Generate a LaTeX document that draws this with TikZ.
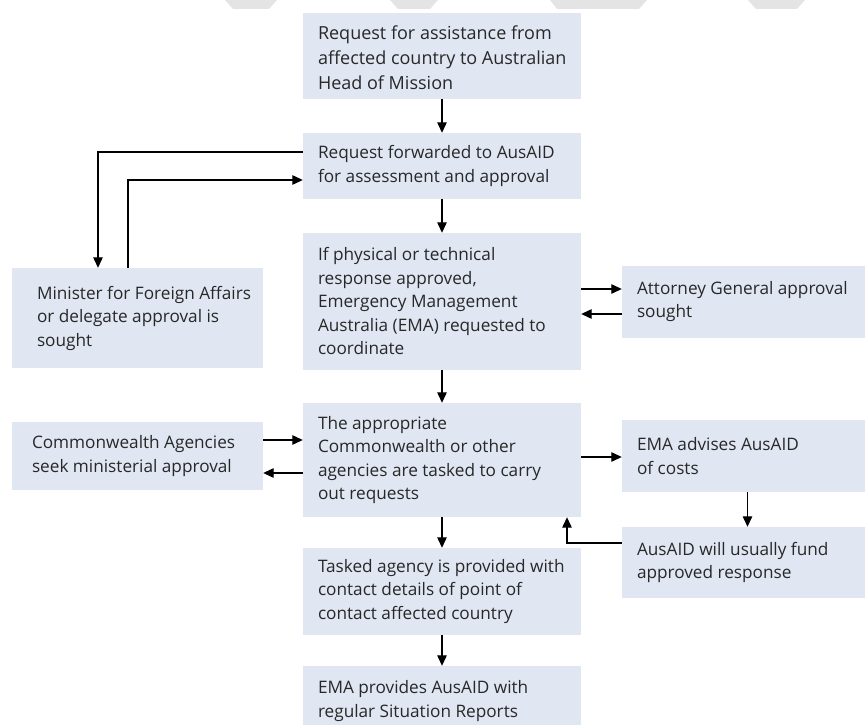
\documentclass[tikz,border=0pt]{standalone}
\usepackage{fontspec}
\setmainfont{Open Sans}
\usetikzlibrary{arrows.meta}
\definecolor{boxfill}{RGB}{224,230,242}
\definecolor{txtcol}{RGB}{40,40,40}
\definecolor{wm}{RGB}{228,228,228}
\tikzset{
  box/.style={fill=boxfill, draw=none, inner sep=0pt},
  txt/.style={anchor=west, align=left, inner sep=0pt, text=txtcol,
    font=\fontsize{17.2}{23.5}\selectfont},
  arr/.style={draw=black, line width=1.2pt, -{Triangle[length=10.5pt,width=9.5pt]}},
  wmark/.style={fill=wm, draw=none}
}
\begin{document}
\begin{tikzpicture}[x=1pt,y=-1pt]
\useasboundingbox (0,0) rectangle (865,725);
% watermark remnants at top edge
\fill[wmark] (225,0) -- (233,9) -- (269,9) -- (277,0) -- cycle;
\fill[wmark] (390,0) -- (398,9) -- (430,9) -- (438,0) -- cycle;
\fill[wmark] (550,0) -- (557,9) -- (639,9) -- (647,0) -- cycle;
\fill[wmark] (748,0) -- (756,9) -- (797,9) -- (805,0) -- cycle;

% boxes
\node[box, minimum width=278pt, minimum height=86pt] (b1) at (442,56) {};
\node[box, minimum width=278pt, minimum height=66pt] (b2) at (442,166) {};
\node[box, minimum width=278pt, minimum height=137pt] (b3) at (442,301.5) {};
\node[box, minimum width=278pt, minimum height=114pt] (b4) at (442,460) {};
\node[box, minimum width=278pt, minimum height=87pt] (b5) at (442,591.5) {};
\node[box, minimum width=278pt, minimum height=74pt] (b6) at (442,703) {};
\node[box, minimum width=251pt, minimum height=100pt] (mfa) at (137.5,318) {};
\node[box, minimum width=251pt, minimum height=68pt] (cw) at (137.5,456) {};
\node[box, minimum width=244pt, minimum height=72pt] (att) at (744,301.5) {};
\node[box, minimum width=244pt, minimum height=72pt] (ema) at (744,456) {};
\node[box, minimum width=244pt, minimum height=71pt] (fund) at (744,562.5) {};

% texts
\node[txt, font=\fontsize{18}{25}\selectfont] (t1) at ([xshift=15pt,yshift=-1.5pt]b1.west) {Request for assistance from\\affected country to Australian\\Head of Mission};
\node[txt] (t2) at ([xshift=15pt]b2.west) {Request forwarded to AusAID\\for assessment and approval};
\node[txt] (t3) at ([xshift=15pt]b3.west) {If physical or technical\\response approved,\\Emergency Management\\Australia (EMA) requested to\\coordinate};
\node[txt] (t4) at ([xshift=15pt]b4.west) {The appropriate\\Commonwealth or other\\agencies are tasked to carry\\out requests};
\node[txt] (t5) at ([xshift=15pt]b5.west) {Tasked agency is provided with\\contact details of point of\\contact affected country};
\node[txt] (t6) at ([xshift=15pt,yshift=2pt]b6.west) {EMA provides AusAID with\\regular Situation Reports};
\node[txt] (tm) at ([xshift=25pt]mfa.west) {Minister for Foreign Affairs\\or delegate approval is\\sought};
\node[txt] (tc) at ([xshift=20pt]cw.west) {Commonwealth Agencies\\seek ministerial approval};
\node[txt] (ta) at ([xshift=15pt]att.west) {Attorney General approval\\sought};
\node[txt] (te) at ([xshift=15pt]ema.west) {EMA advises AusAID\\of costs};
\node[txt] (tf) at ([xshift=15pt]fund.west) {AusAID will usually fund\\approved response};

% connectors
\draw[arr] (b1.south) -- (b2.north);
\draw[arr] (b2.south) -- (b3.north);
\draw[arr] (b3.south) -- (b4.north);
\draw[arr] (b4.south) -- (b5.north);
\draw[arr] (b5.south) -- (b6.north);
\draw[arr] ([yshift=14pt]b2.west) -| ([xshift=-39.5pt]mfa.north);
\draw[arr] ([xshift=-9.5pt]mfa.north) |- ([yshift=-14pt]b2.west);
\draw[arr] ([yshift=12.5pt]b3.east) -- ([yshift=12.5pt]att.west);
\draw[arr] ([yshift=-12.5pt]att.west) -- ([yshift=-12.5pt]b3.east);
\draw[arr] ([yshift=16pt]cw.east) -- ([yshift=20pt]b4.west);
\draw[arr] ([yshift=-13pt]b4.west) -- ([yshift=-17pt]cw.east);
\draw[arr] ([yshift=3pt]b4.east) -- ([yshift=-1pt]ema.west);
\draw[arr] ([xshift=3.5pt]ema.south) -- ([xshift=3.5pt]fund.north);
\draw[arr] ([yshift=19.5pt]fund.west) -| ([xshift=125pt]b4.south);
\end{tikzpicture}
\end{document}
